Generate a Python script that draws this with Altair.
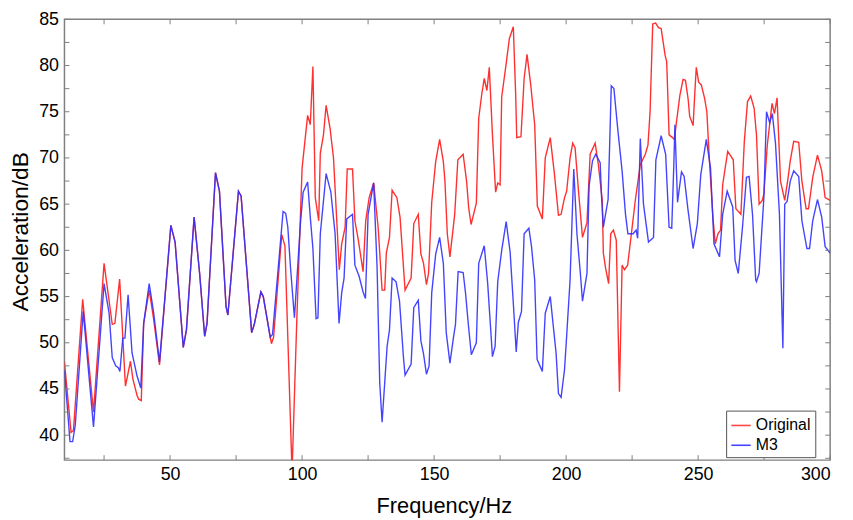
import altair as alt
import pandas as pd

# ---------------- data ----------------
orig_freq = [10.0, 12.5, 13.4, 16.9, 21.0, 25.0, 28.1, 29.1, 30.9, 33.1, 35.0, 35.9, 37.5, 38.1, 39.1,
             40.0, 42.1, 43.8, 46.0, 50.3, 51.9, 55.0, 56.2, 59.1, 61.2, 63.1, 64.0, 67.2, 68.7, 71.2,
             71.9, 75.9, 76.9, 80.9, 81.9, 84.4, 85.3, 88.4, 89.2, 92.3, 93.5, 96.2, 98.0, 100.0, 102.1,
             103.1, 104.1, 105.0, 106.3, 106.9, 108.1, 109.1, 110.6, 111.9, 114.1, 115.0, 116.3, 117.1,
             119.1, 120.0, 121.3, 123.1, 124.1, 125.4, 127.1, 128.8, 130.3, 131.3, 131.9, 133.1, 134.1,
             135.9, 137.1, 139.0, 141.3, 142.3, 144.0, 145.0, 146.0, 147.1, 147.9, 149.1, 150.6, 152.1,
             153.5, 154.1, 155.0, 156.0, 157.8, 159.0, 161.0, 162.3, 163.1, 164.0, 166.0, 166.9, 168.1,
             169.0, 170.0, 170.9, 172.1, 173.3, 174.1, 175.0, 175.6, 177.3, 178.5, 180.0, 180.9, 181.3,
             182.9, 184.1, 185.2, 186.6, 188.1, 189.1, 191.0, 192.1, 194.0, 195.6, 197.1, 198.1, 199.4,
             200.2, 201.5, 202.5, 203.4, 204.7, 206.2, 207.9, 209.1, 211.0, 212.2, 213.7, 214.1, 215.0,
             216.1, 216.9, 217.9, 219.0, 219.6, 220.2, 221.2, 222.1, 223.3, 224.6, 226.2, 228.1, 230.0,
             231.0, 231.8, 232.8, 233.9, 235.0, 236.0, 237.5, 238.1, 239.0, 240.3, 241.0, 241.8, 243.1,
             244.3, 245.2, 246.2, 246.8, 248.1, 248.7, 249.3, 250.2, 251.2, 252.5, 253.3, 254.3, 255.6,
             256.5, 257.5, 258.5, 259.3, 261.2, 263.3, 264.3, 266.2, 267.5, 268.7, 269.9, 271.2, 272.1,
             273.1, 274.3, 274.9, 276.2, 278.0, 278.9, 279.9, 281.2, 282.8, 284.0, 284.9, 286.2, 288.1,
             289.3, 290.9, 291.8, 293.4, 295.2, 296.8, 298.1, 300.0]
orig_db = [47.9, 40.3, 40.5, 54.7, 42.5, 58.6, 52.0, 52.1, 56.9, 45.3, 48.0, 46.1, 44.3, 43.9, 43.75,
           52.1, 55.7, 52.5, 47.6, 62.7, 60.9, 49.5, 51.4, 63.6, 57.5, 50.7, 52.1, 68.4, 66.4, 53.9,
           53.0, 66.4, 65.9, 51.1, 52.0, 55.5, 55.0, 49.9, 50.6, 61.7, 60.5, 36.0, 52.5, 68.9, 74.6,
           73.6, 79.9, 65.7, 63.2, 70.5, 72.5, 75.7, 73.2, 70.0, 57.9, 60.7, 62.5, 68.8,
           68.8, 63.2, 61.1, 57.7, 63.2, 65.7, 67.3, 62.5, 55.7, 55.7, 59.7, 61.4, 66.5,
           65.7, 63.6, 55.7, 57.0, 62.9, 63.9, 59.6, 58.6, 56.3, 57.5, 65.2, 69.6, 72.0,
           69.6, 67.5, 61.8, 59.3, 63.9, 69.8, 70.4, 67.5, 64.6, 62.8, 65.1, 74.3, 77.0,
           78.6, 77.3, 79.8, 72.5, 66.3, 67.3, 67.1, 76.6, 80.2, 82.9, 84.2, 76.8, 72.2,
           72.3, 78.6, 81.2, 77.9, 73.6, 64.8, 63.4, 70.0, 72.2, 68.2, 63.8, 63.9, 65.7,
           66.4, 70.0, 71.6, 71.1, 66.4, 61.4, 63.0, 70.4, 71.6, 69.3, 65.4, 59.7, 58.0,
           56.4, 61.8, 62.2, 61.1, 52.9, 44.7, 58.4, 57.9, 58.4, 61.5, 65.4, 69.3, 70.4,
           71.4, 75.0, 84.5, 84.6, 84.1, 84.0, 81.1, 80.4, 72.5, 72.2, 72.0, 73.9, 76.8,
           78.5, 78.4, 76.4, 74.5, 73.5, 76.8, 79.8, 78.2, 77.9, 76.4, 75.0, 69.6, 63.6,
           60.7, 61.8, 62.2, 67.1, 70.7, 69.8, 64.5, 63.9, 71.8, 76.1, 76.7, 75.4, 72.5,
           65.0, 65.4, 66.1, 71.4, 75.9, 74.8, 76.5, 67.5, 65.4, 67.7, 69.7, 71.8, 71.7,
           67.5, 64.5, 64.5, 67.9, 70.3, 68.6, 65.7, 65.4]

m3_freq = [10.0, 12.1, 13.1, 14.1, 17.1, 21.0, 25.0, 26.9, 28.1, 29.4, 30.4, 31.0, 32.1, 32.9, 34.1,
           35.6, 37.5, 38.9, 40.0, 42.1, 43.8, 46.0, 50.3, 51.9, 55.0, 56.2, 59.1, 61.2, 63.1, 64.0,
           67.2, 68.7, 71.2, 71.9, 75.9, 76.9, 80.9, 81.9, 84.4, 85.3, 87.9, 88.8, 92.8, 93.8, 94.6,
           95.6, 97.1, 99.4, 100.4, 102.1, 103.1, 104.1, 105.3, 106.0, 106.9, 109.1, 110.9, 112.5,
           114.0, 115.0, 115.9, 116.9, 119.1, 120.0, 121.6, 123.1, 124.0, 125.0, 127.1, 128.4, 129.4,
           130.3, 131.3, 132.2, 133.1, 134.1, 135.6, 136.9, 138.4, 139.0, 141.3, 142.3, 144.0, 145.0,
           146.0, 147.1, 148.1, 149.1, 150.6, 152.1, 153.5, 154.6, 156.0, 157.3, 158.1, 159.1, 161.0,
           161.9, 162.9, 164.1, 166.0, 166.9, 169.0, 170.3, 172.1, 173.1, 174.1, 175.6, 177.3, 178.8,
           180.0, 181.1, 181.9, 183.1, 184.1, 185.9, 186.9, 188.1, 189.0, 191.0, 192.1, 194.0, 195.4,
           196.2, 197.1, 198.1, 199.4, 200.2, 201.5, 202.9, 204.1, 205.4, 206.2, 207.9, 208.7, 210.0,
           211.2, 212.9, 213.4, 214.1, 215.9, 216.6, 217.1, 218.1, 219.6, 221.2, 222.5, 223.4, 225.4,
           226.5, 227.1, 228.1, 229.3, 231.2, 233.1, 234.0, 236.0, 237.7, 239.0, 240.0, 240.8, 241.2,
           242.2, 243.7, 244.7, 246.2, 248.1, 249.7, 251.0, 253.1, 254.7, 256.0, 258.1, 259.3, 261.0,
           263.1, 264.0, 265.2, 266.8, 268.3, 269.3, 270.6, 271.8, 272.1, 273.1, 274.9, 275.9, 277.1,
           278.1, 279.3, 280.8, 282.1, 282.8, 283.7, 284.9, 286.2, 288.1, 289.3, 291.2, 292.2, 293.4,
           295.2, 296.8, 298.1, 300.0]
m3_db = [47.0, 39.3, 39.3, 41.1, 53.4, 40.9, 56.4, 53.2, 48.4, 47.5, 47.3, 46.9, 50.5, 50.5, 55.2,
         48.9, 46.4, 45.1, 52.1, 56.4, 53.2, 47.9, 62.7, 60.9, 49.5, 51.4, 63.6, 57.5, 50.7, 52.1,
         68.4, 66.4, 53.9, 53.0, 66.4, 65.9, 51.1, 52.0, 55.5, 55.0, 50.6, 50.9, 64.2, 64.0, 62.5,
         58.2, 52.7, 63.0, 66.3, 67.4, 63.6, 60.2, 52.6, 52.7, 61.8, 68.3, 66.3, 61.8,
         52.1, 55.4, 57.0, 63.4, 63.9, 58.4, 57.2, 55.5, 54.8, 63.9, 67.3, 58.2, 45.7,
         41.4, 45.7, 49.6, 51.4, 57.0, 56.6, 54.5, 48.4, 46.5, 47.7, 53.8, 54.6, 50.2,
         48.8, 46.6, 47.5, 55.4, 59.6, 61.4, 58.6, 51.1, 47.8, 50.5, 52.0, 57.7, 57.6,
         55.4, 52.2, 48.7, 50.0, 58.6, 60.5, 56.4, 48.5, 49.6, 56.6, 60.0, 63.1, 59.8,
         54.3, 49.0, 52.2, 53.4, 61.8, 62.4, 60.4, 56.8, 48.2, 46.9, 53.2, 55.0, 51.1,
         48.9, 44.5, 44.1, 47.1, 50.7, 56.8, 68.8, 61.8, 57.5, 54.5, 57.5, 67.0, 69.7,
         70.4, 69.5, 65.9, 62.5, 65.5, 72.5, 77.8, 77.5, 73.0, 68.6, 63.9, 61.8, 61.8,
         62.2, 61.3, 72.1, 65.0, 60.9, 61.4, 69.8, 72.4, 70.4, 62.5, 62.4, 69.3, 73.6,
         65.2, 68.5, 68.0, 64.3, 60.2, 62.9, 68.2, 72.0, 68.9, 60.7, 59.3, 63.9, 66.4,
         64.7, 58.9, 57.5, 62.5, 67.9, 68.0, 63.9, 56.8, 56.6, 57.5, 65.7, 75.0, 73.8,
         74.8, 71.6, 63.9, 49.4, 65.0, 65.3, 67.5, 68.6, 68.0, 63.2, 60.2, 60.2, 63.2,
         65.5, 63.6, 60.4, 59.7]

series_names = ["Original", "M3"]
series_colors = ["#ff3030", "#3030ff"]

x_label_values = [50, 100, 150, 200, 250, 300]
x_tick_values = [25, 50, 75, 100, 125, 150, 175, 200, 225, 250, 275, 300]
y_label_values = [40, 45, 50, 55, 60, 65, 70, 75, 80, 85]
y_tick_values = [37.5, 40, 42.5, 45, 47.5, 50, 52.5, 55, 57.5, 60, 62.5, 65, 67.5, 70,
                 72.5, 75, 77.5, 80, 82.5, 85]

# ---------------- build tables ----------------
df_orig = pd.DataFrame({"freq": orig_freq, "db": orig_db, "series": series_names[0]})
df_m3 = pd.DataFrame({"freq": m3_freq, "db": m3_db, "series": series_names[1]})
df_xt = pd.DataFrame({"t": x_tick_values})
df_yt = pd.DataFrame({"t": y_tick_values})

W, H = 773, 445
TL = 5  # inward tick length in px
FONT = "Liberation Sans"
FRAME = "#808080"

xscale = alt.Scale(domain=[10, 300], nice=False, zero=False)
yscale = alt.Scale(domain=[37.3, 85], nice=False, zero=False)
cscale = alt.Scale(domain=series_names, range=series_colors)

x_main = alt.X("freq:Q", scale=xscale, axis=alt.Axis(
    values=x_label_values, ticks=False, domain=False, grid=False, format="d",
    labelFont=FONT, labelFontSize=18, labelColor="black", labelPadding=6,
    title="Frequency/Hz", titleFont=FONT, titleFontSize=22, titleFontWeight="normal",
    titleColor="black", titleX=383, titleY=46, titleBaseline="middle", titleAlign="center"))
y_main = alt.Y("db:Q", scale=yscale, axis=alt.Axis(
    values=y_label_values, ticks=False, domain=False, grid=False, format="d",
    labelFont=FONT, labelFontSize=18, labelColor="black", labelPadding=6,
    title="Acceleration/dB", titleFont=FONT, titleFontSize=23, titleFontWeight="normal",
    titleColor="black", titleAngle=270, titleX=-44, titleY=214,
    titleBaseline="middle", titleAlign="center"))

legend = alt.Legend(title=None, orient="none", legendX=668, legendY=395,
                    symbolType="stroke", symbolSize=380, symbolStrokeWidth=1.6,
                    labelFont=FONT, labelFontSize=16, labelColor="black",
                    strokeColor="#555555", fillColor="white", padding=4,
                    rowPadding=1, labelOffset=4)

red_line = alt.Chart(df_orig).mark_line(clip=True, strokeWidth=1.4).encode(
    x=x_main, y=y_main,
    color=alt.Color("series:N", scale=cscale, legend=legend, sort=series_names))
blue_line = alt.Chart(df_m3).mark_line(clip=True, strokeWidth=1.4, opacity=0.9).encode(
    x=alt.X("freq:Q", scale=xscale, axis=None),
    y=alt.Y("db:Q", scale=yscale, axis=None),
    color=alt.Color("series:N", scale=cscale, legend=legend, sort=series_names))

# inward ticks (MATLAB-style box axes)
tick_style = dict(color=FRAME, strokeWidth=1)
xt_top = alt.Chart(df_xt).mark_rule(**tick_style).encode(
    x=alt.X("t:Q", scale=xscale, axis=None), y=alt.value(0), y2=alt.value(TL))
xt_bot = alt.Chart(df_xt).mark_rule(**tick_style).encode(
    x=alt.X("t:Q", scale=xscale, axis=None), y=alt.value(H - TL), y2=alt.value(H))
yt_left = alt.Chart(df_yt).mark_rule(**tick_style).encode(
    y=alt.Y("t:Q", scale=yscale, axis=None), x=alt.value(0), x2=alt.value(TL))
yt_right = alt.Chart(df_yt).mark_rule(**tick_style).encode(
    y=alt.Y("t:Q", scale=yscale, axis=None), x=alt.value(W - TL), x2=alt.value(W))

chart = alt.layer(red_line, blue_line, xt_top, xt_bot, yt_left, yt_right).resolve_axis(
    x="independent", y="independent"
).properties(
    width=W, height=H,
    autosize=alt.AutoSizeParams(type="none"),
    padding={"left": 57, "top": 9, "right": 15, "bottom": 58},
    background="white",
).configure_view(stroke=FRAME, strokeWidth=1.5)

chart.save("out.html", embed_options={"renderer": "svg", "actions": False})
